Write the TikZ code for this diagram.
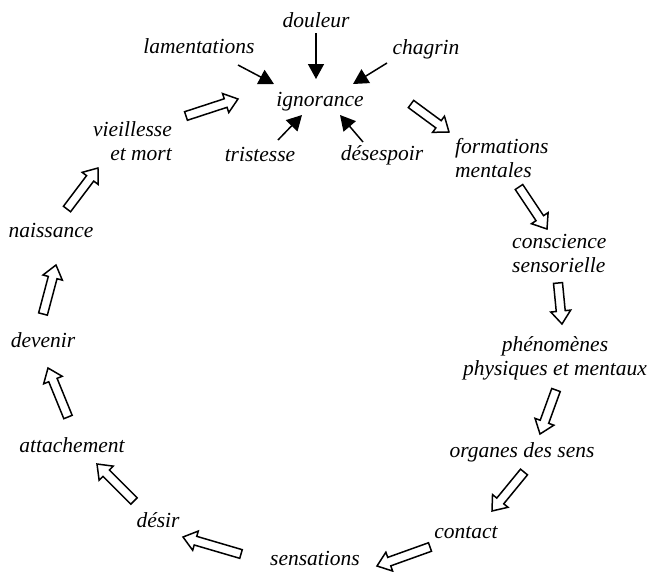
\documentclass[tikz,border=0pt]{standalone}
\usepackage{fontspec}
\setmainfont{Liberation Serif}
\usetikzlibrary{arrows.meta,decorations.markings}
\begin{document}
\begin{tikzpicture}[x=1pt,y=-1pt,
  lbl/.style={inner sep=0pt, font=\fontsize{21.5}{24}\selectfont\itshape},
  cause/.style={line width=1.5pt, -{Triangle[length=15pt,width=16pt]}},
  hollow/.style={decoration={markings, mark=at position 0 with {
      \draw[line width=1.5pt, fill=white, line join=miter]
        (0pt,-4.5pt) -- ({\pgfdecoratedpathlength-13pt},-4.5pt)
        -- ({\pgfdecoratedpathlength-13pt},-10pt)
        -- (\pgfdecoratedpathlength,0pt)
        -- ({\pgfdecoratedpathlength-13pt},10pt)
        -- ({\pgfdecoratedpathlength-13pt},4.5pt)
        -- (0pt,4.5pt) -- cycle;}}, decorate}]
\useasboundingbox (0,0) rectangle (651,571);

% labels (multi-line labels are anchored on the baseline of their last line)
\node[lbl,anchor=base] (doul) at (316,27) {douleur};
\node[lbl,anchor=base] (lam) at (199,53) {lamentations};
\node[lbl,anchor=base] (chag) at (426,54) {chagrin};
\node[lbl,anchor=base] (ign) at (320,106) {ignorance};
\node[lbl,anchor=base] (tris) at (260,161) {tristesse};
\node[lbl,anchor=base] (desp) at (382,160) {désespoir};
\node[lbl,anchor=base east,align=right] (vieil) at (172,160) {vieillesse\\et mort};
\node[lbl,anchor=base west,align=left] (form) at (455,177) {formations\\mentales};
\node[lbl,anchor=base west,align=left] (consc) at (512,272) {conscience\\sensorielle};
\node[lbl,anchor=base,align=center] (phen) at (555,375) {phénomènes\\physiques et mentaux};
\node[lbl,anchor=base] (org) at (522,457) {organes des sens};
\node[lbl,anchor=base] (cont) at (466,538) {contact};
\node[lbl,anchor=base] (sens) at (315,565) {sensations};
\node[lbl,anchor=base] (desir) at (158,527) {désir};
\node[lbl,anchor=base] (att) at (72,452) {attachement};
\node[lbl,anchor=base] (dev) at (43,347) {devenir};
\node[lbl,anchor=base] (nais) at (51,237) {naissance};

% ends of the solid arrows into "ignorance"
\coordinate (doulS) at (316,33);  \coordinate (doulE) at (316,79);
\coordinate (lamS)  at (238,65);  \coordinate (lamE)  at (274,84);
\coordinate (chagS) at (387,63);  \coordinate (chagE) at (353,84);
\coordinate (trisS) at (278,140); \coordinate (trisE) at (302,115);
\coordinate (despS) at (363,142); \coordinate (despE) at (340,115);

\draw[cause] (doulS) -- (doulE);
\draw[cause] (lamS) -- (lamE);
\draw[cause] (chagS) -- (chagE);
\draw[cause] (trisS) -- (trisE);
\draw[cause] (despS) -- (despE);

% ends of the hollow arrows of the cycle
\coordinate (c1s) at (186,116); \coordinate (c1e) at (238,99);
\coordinate (c2s) at (411,104); \coordinate (c2e) at (449,132);
\coordinate (c3s) at (519,187); \coordinate (c3e) at (547,229);
\coordinate (c4s) at (558,283); \coordinate (c4e) at (562,324);
\coordinate (c5s) at (556,390); \coordinate (c5e) at (540,434);
\coordinate (c6s) at (524,472); \coordinate (c6e) at (492,511);
\coordinate (c7s) at (430,547); \coordinate (c7e) at (377,566);
\coordinate (c8s) at (241,554); \coordinate (c8e) at (183,537);
\coordinate (c9s) at (134,501); \coordinate (c9e) at (97,464);
\coordinate (c10s) at (68,417); \coordinate (c10e) at (48,368);
\coordinate (c11s) at (43,314); \coordinate (c11e) at (56,265);
\coordinate (c12s) at (67,209); \coordinate (c12e) at (98,168);

\foreach \i in {1,...,12}
  \path[hollow] (c\i s) -- (c\i e);
\end{tikzpicture}
\end{document}
